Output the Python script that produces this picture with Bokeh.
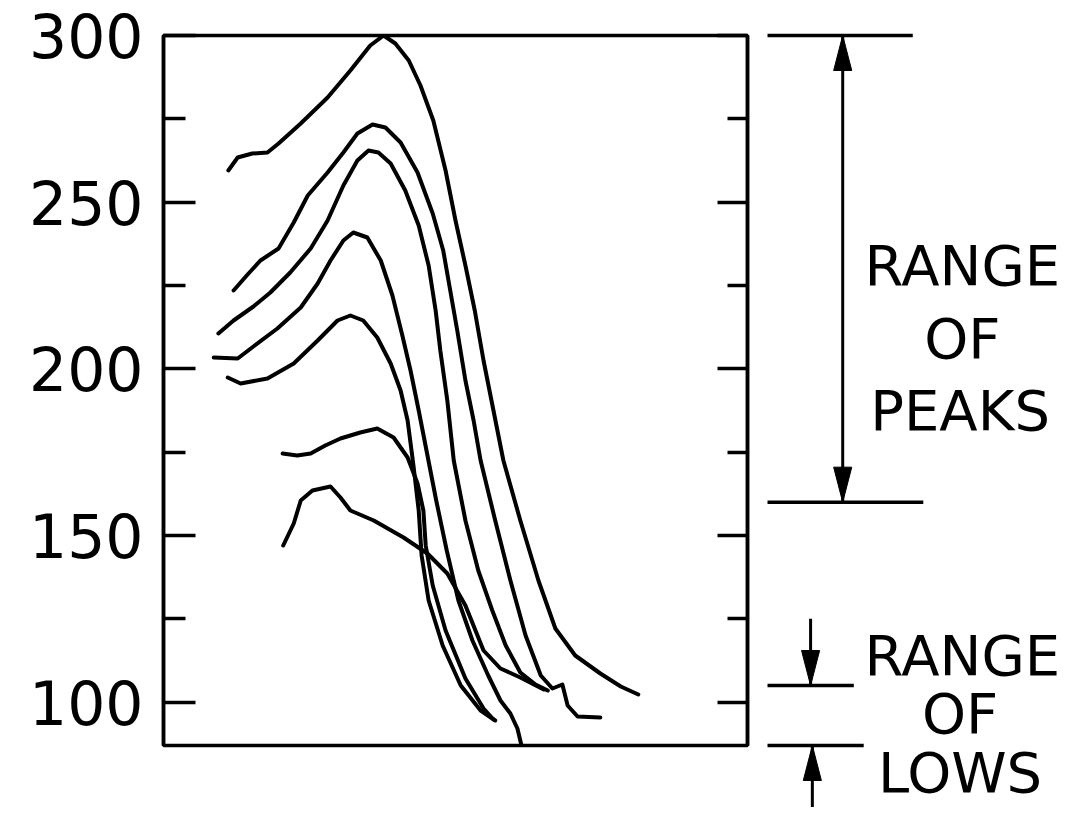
from bokeh.plotting import figure
from bokeh.layouts import row
from bokeh.models import Range1d, LinearAxis, FixedTicker
from bokeh.core.properties import value
from bokeh.embed import file_html
from bokeh.resources import INLINE

# ---- data ----
y_major_ticks = [100, 150, 200, 250, 300]
y_minor_ticks = [125, 175, 225, 275]
y_tick_labels = ["100", "150", "200", "250", "300"]

curve_1_x = [11.1, 12.7, 15.2, 17.8, 19.7, 23.5, 28.1, 32.0, 35.4, 37.7, 39.7, 42.0, 44.0, 46.2, 48.3, 50.0,
             51.7, 53.3, 54.8, 56.5, 58.2, 61.1, 64.2, 67.1, 70.5, 74.8, 78.3, 81.3]
curve_1_y = [259.5, 263.4, 264.6, 264.9, 267.6, 273.6, 281.4, 289.5, 297.0, 300.0, 297.6, 292.5, 285.0, 274.5,
             259.5, 244.5, 231.0, 217.5, 202.5, 187.5, 172.5, 154.5, 136.5, 122.1, 114.0, 108.6, 104.7, 102.3]

curve_2_x = [12.0, 14.4, 16.6, 19.7, 22.3, 24.7, 28.1, 30.8, 33.2, 35.8, 38.0, 40.6, 43.5, 46.1, 47.9, 49.1,
             50.3, 51.7, 53.1, 54.3, 56.8, 59.4, 62.0, 64.6, 66.6, 68.3, 69.2, 70.9, 74.8]
curve_2_y = [223.5, 228.3, 232.5, 236.1, 243.9, 252.0, 258.9, 264.9, 270.6, 273.3, 272.4, 267.9, 258.9, 246.6,
             235.5, 223.5, 211.5, 196.5, 184.5, 172.5, 154.5, 136.5, 120.0, 108.0, 104.1, 105.3, 99.0, 95.7, 95.4]

curve_3_x = [9.4, 12.0, 15.4, 18.3, 21.7, 25.2, 28.1, 30.8, 33.2, 35.1, 36.8, 38.9, 41.4, 43.7, 45.4, 46.6,
             47.4, 48.6, 49.7, 51.7, 53.9, 56.3, 58.6, 61.1, 63.7, 65.8]
curve_3_y = [210.6, 214.5, 218.7, 222.9, 228.9, 236.1, 244.5, 255.0, 262.5, 265.5, 264.9, 261.6, 253.5, 243.0,
             231.0, 217.5, 205.5, 190.5, 172.5, 154.5, 139.5, 127.5, 117.0, 108.9, 105.3, 103.5]

curve_4_x = [8.6, 12.7, 15.4, 19.5, 23.5, 26.4, 28.6, 30.8, 32.5, 34.9, 37.2, 39.2, 40.9, 42.3, 43.7, 45.2,
             46.7, 48.5, 50.5, 52.9, 55.6, 57.7, 59.4, 60.6, 61.3]
curve_4_y = [203.4, 203.1, 206.7, 212.1, 218.4, 225.6, 232.5, 238.5, 240.9, 239.4, 232.5, 222.0, 210.0, 199.5,
             187.5, 174.0, 160.5, 145.5, 130.5, 118.5, 108.0, 100.5, 96.6, 92.1, 87.0]

curve_5_x = [11.0, 13.2, 17.8, 22.3, 26.4, 29.8, 32.0, 34.2, 36.6, 38.9, 40.6, 41.8, 42.8, 43.7, 44.2, 45.4,
             47.8, 50.9, 54.3, 56.8]
curve_5_y = [197.4, 195.6, 197.1, 201.6, 208.5, 214.5, 216.0, 214.5, 209.4, 201.6, 193.5, 184.5, 171.0, 157.5,
             144.0, 130.5, 117.0, 105.0, 97.5, 94.5]

curve_6_x = [20.4, 22.9, 25.2, 27.7, 30.3, 33.7, 36.6, 39.4, 41.8, 43.5, 44.5, 44.9, 46.1, 48.3, 51.7, 54.8, 56.5]
curve_6_y = [174.6, 174.0, 174.6, 177.0, 179.1, 180.9, 182.1, 179.4, 173.4, 165.6, 157.5, 147.0, 135.0, 121.5,
             107.1, 98.1, 94.8]

curve_7_x = [20.5, 22.3, 23.5, 25.5, 28.6, 30.3, 32.0, 36.0, 41.1, 45.2, 48.6, 51.7, 54.8, 57.7, 61.1, 65.1]
curve_7_y = [147.0, 153.6, 160.5, 163.5, 164.7, 161.4, 157.5, 154.5, 149.4, 144.6, 138.6, 129.0, 115.5, 110.1,
             107.4, 103.8]

curves = [(curve_1_x, curve_1_y), (curve_2_x, curve_2_y), (curve_3_x, curve_3_y), (curve_4_x, curve_4_y),
          (curve_5_x, curve_5_y), (curve_6_x, curve_6_y), (curve_7_x, curve_7_y)]

range_of_peaks = [160, 300]
range_of_lows = [87, 105]
peaks_label = ["RANGE", "OF", "PEAKS"]
lows_label = ["RANGE", "OF", "LOWS"]

FONT = "DejaVu Sans"
LW = 3.5

# ---------------- main chart ----------------
p = figure(width=767, height=807, x_range=Range1d(0, 100), y_range=Range1d(87, 300),
           output_backend="svg", toolbar_location=None, x_axis_location=None, y_axis_location="left",
           min_border_left=163, min_border_right=20, min_border_top=35, min_border_bottom=62)
p.frame_align = False
p.grid.visible = False
p.outline_line_color = "black"
p.outline_line_width = LW
p.background_fill_color = "white"
p.border_fill_color = "white"

yl = p.yaxis[0]
yl.ticker = FixedTicker(ticks=y_major_ticks, minor_ticks=y_minor_ticks)
yl.major_label_overrides = {t: s for t, s in zip(y_major_ticks, y_tick_labels)}
yl.axis_line_width = LW
yl.major_tick_line_width = LW
yl.minor_tick_line_width = LW
yl.major_tick_in = 32
yl.major_tick_out = 0
yl.minor_tick_in = 22
yl.minor_tick_out = 0
yl.major_label_standoff = 20
yl.major_label_text_font = FONT
yl.major_label_text_font_size = "60px"
yl.major_label_text_color = "black"

yr = LinearAxis(ticker=FixedTicker(ticks=y_major_ticks, minor_ticks=y_minor_ticks))
yr.axis_line_width = LW
yr.major_tick_line_width = LW
yr.minor_tick_line_width = LW
yr.major_tick_in = 30
yr.major_tick_out = 0
yr.minor_tick_in = 20
yr.minor_tick_out = 0
yr.major_label_standoff = 0
yr.major_label_overrides = {t: "" for t in y_major_ticks}
p.add_layout(yr, "right")

for cx, cy in curves:
    p.line(cx, cy, line_color="black", line_width=4, line_join="round", line_cap="round")

# ---------------- right-hand annotation panel (same y scale) ----------------
q = figure(width=293, height=807, x_range=Range1d(103.42, 153.6), y_range=Range1d(68.4, 310.5),
           output_backend="svg", toolbar_location=None, x_axis_location=None, y_axis_location=None,
           min_border_left=0, min_border_right=0, min_border_top=0, min_border_bottom=0)
q.frame_align = False
q.grid.visible = False
q.outline_line_color = None
q.background_fill_color = "white"
q.border_fill_color = "white"

# horizontal bars marking the ranges
q.segment(x0=[102.6, 102.6, 102.6, 102.2], x1=[128.3, 130.1, 118.2, 119.9],
          y0=[range_of_peaks[1], range_of_peaks[0], range_of_lows[1], range_of_lows[0]],
          y1=[range_of_peaks[1], range_of_peaks[0], range_of_lows[1], range_of_lows[0]],
          line_color="black", line_width=LW)

# arrow shafts
ax_peaks, ax_lows_dn, ax_lows_up = 116.3, 110.8, 111.1
q.segment(x0=[ax_peaks, ax_lows_dn, ax_lows_up], x1=[ax_peaks, ax_lows_dn, ax_lows_up],
          y0=[range_of_peaks[0], range_of_lows[1] + 20, range_of_lows[0] - 25],
          y1=[range_of_peaks[1], range_of_lows[1], range_of_lows[0]],
          line_color="black", line_width=3)

# arrow heads (narrow triangles): tip at the range value
HL, HW = 10.5, 1.55
def head(xc, tip, direction):
    base = tip - direction * HL
    return [xc - HW, xc, xc + HW], [base, tip, base]

heads = [head(ax_peaks, range_of_peaks[1], 1), head(ax_peaks, range_of_peaks[0], -1),
         head(ax_lows_dn, range_of_lows[1], -1), head(ax_lows_up, range_of_lows[0], 1)]
q.patches(xs=[h[0] for h in heads], ys=[h[1] for h in heads], fill_color="black", line_color="black",
          line_width=1)

q.text(x=[136.8, 136.8, 136.4], y=[231.0, 209.1, 187.5], text=peaks_label,
       text_font=value(FONT), text_font_size=value("56px"), text_align="center",
       text_baseline="middle", text_color="black")
q.text(x=[136.8, 136.4, 136.4], y=[114.0, 96.6, 78.9], text=lows_label,
       text_font=value(FONT), text_font_size=value("56px"), text_align="center",
       text_baseline="middle", text_color="black")

layout = row(p, q, spacing=0)
open("out.html", "w").write(file_html(layout, INLINE))
